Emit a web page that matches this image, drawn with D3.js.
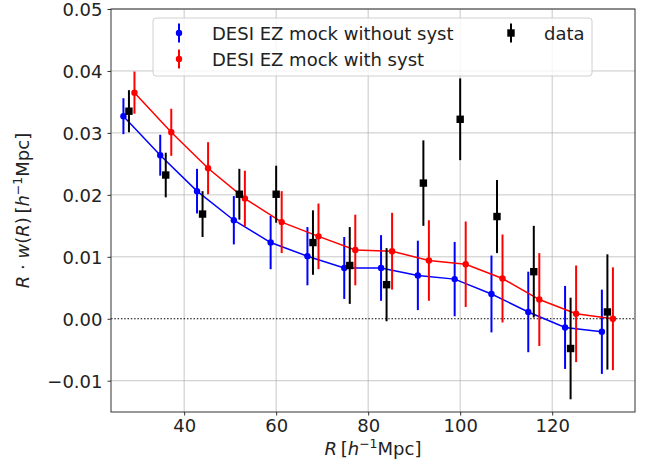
<!DOCTYPE html>
<html><head><meta charset="utf-8">
<script src="https://cdn.jsdelivr.net/npm/d3@7"></script>
<style>
html,body{margin:0;padding:0;background:#fff;}
text{font-family:"DejaVu Sans",sans-serif;}
</style></head>
<body><svg id="chart" width="656" height="468"></svg>
<script>
// ---- data ----
const R = [28,36,44,52,60,68,76,84,92,100,108,116,124,132];
const mockNoSyst    = [0.0327,0.0264,0.0206,0.0159,0.0123,0.0101,0.0082,0.0082,0.0070,0.0064,0.0040,0.0011,-0.0014,-0.0021];
const mockNoSystErr = [0.0029,0.0033,0.0036,0.0039,0.0043,0.0047,0.0050,0.0053,0.0056,0.0060,0.0062,0.0065,0.0067,0.0068];
const mockSyst      = [0.0365,0.0301,0.0243,0.0194,0.0156,0.0133,0.0111,0.0109,0.0094,0.0088,0.0065,0.0031,0.0008,0.0000];
const mockSystErr   = [0.0034,0.0038,0.0042,0.0045,0.0050,0.0053,0.0057,0.0062,0.0065,0.0069,0.0071,0.0075,0.0078,0.0083];
const dataVal       = [0.0335,0.0232,0.0169,0.0201,0.0201,0.0123,0.0086,0.0055,0.0219,0.0322,0.0165,0.0076,-0.0048,0.0011];
const dataErr       = [0.0034,0.0036,0.0037,0.0041,0.0046,0.0052,0.0062,0.0059,0.0069,0.0066,0.0059,0.0074,0.0082,0.0093];
const xTicks = [40,60,80,100,120];
const yTicks = [-0.01,0.00,0.01,0.02,0.03,0.04,0.05];
const legendLabels = ["DESI EZ mock without syst","DESI EZ mock with syst","data"];

// ---- layout ----
const W=656,H=468, m={l:111,t:9,r:21,b:56};
const svg=d3.select("#chart");
const x=d3.scaleLinear().domain([24.1,138.0]).range([m.l,W-m.r]);
const y=d3.scaleLinear().domain([-0.01505,0.05]).range([H-m.b,m.t]);
const FS=18;

// grid
const g=svg.append("g");
g.selectAll(".gx").data(xTicks).join("line")
 .attr("x1",d=>x(d)).attr("x2",d=>x(d)).attr("y1",m.t).attr("y2",H-m.b)
 .attr("stroke","#b0b0b0").attr("stroke-opacity",0.7).attr("stroke-width",1);
g.selectAll(".gy").data(yTicks.filter(d=>d!==0)).join("line")
 .attr("y1",d=>y(d)).attr("y2",d=>y(d)).attr("x1",m.l).attr("x2",W-m.r)
 .attr("stroke","#b0b0b0").attr("stroke-opacity",0.7).attr("stroke-width",1);

// zero dotted line
svg.append("line").attr("x1",m.l).attr("x2",W-m.r).attr("y1",y(0)).attr("y2",y(0))
 .attr("stroke","#000").attr("stroke-width",1.2).attr("stroke-dasharray","1.5,1.8");

// axes
const xAxis=d3.axisBottom(x).tickValues(xTicks).tickSize(3.5).tickPadding(4).tickFormat(d3.format("d"));
const yAxis=d3.axisLeft(y).tickValues(yTicks).tickSize(3.5).tickPadding(5)
 .tickFormat(d=>d3.format(".2f")(d).replace("-","\u2212"));
const gx=svg.append("g").attr("transform",`translate(0,${H-m.b})`).call(xAxis);
const gy=svg.append("g").attr("transform",`translate(${m.l},0)`).call(yAxis);
[gx,gy].forEach(a=>{a.select(".domain").remove();
 a.selectAll("text").attr("font-size",FS).attr("fill","#222").attr("font-family","DejaVu Sans");
 a.selectAll("line").attr("stroke","#333");});
gy.selectAll("text").attr("dy","0.36em");

// series
function drawSeries(vals,errs,off,color,line,square){
  const gg=svg.append("g");
  const pts=R.map((r,i)=>({x:r+off,v:vals[i],e:errs[i]}));
  if(line){
    gg.append("path").datum(pts).attr("fill","none").attr("stroke",color).attr("stroke-width",1.5)
     .attr("d",d3.line().x(d=>x(d.x)).y(d=>y(d.v)));
  }
  gg.selectAll(".eb").data(pts).join("line")
   .attr("x1",d=>x(d.x)).attr("x2",d=>x(d.x)).attr("y1",d=>y(d.v-d.e)).attr("y2",d=>y(d.v+d.e))
   .attr("stroke",color).attr("stroke-width",2);
  if(square){
    gg.selectAll(".mk").data(pts).join("rect")
     .attr("x",d=>x(d.x)-3.7).attr("y",d=>y(d.v)-3.7).attr("width",7.4).attr("height",7.4).attr("fill",color);
  } else {
    gg.selectAll(".mk").data(pts).join("circle")
     .attr("cx",d=>x(d.x)).attr("cy",d=>y(d.v)).attr("r",3.2).attr("fill",color);
  }
}
drawSeries(mockNoSyst,mockNoSystErr,-1.2,"#0000ff",true,false);
drawSeries(mockSyst,mockSystErr,1.2,"#ff0000",true,false);
drawSeries(dataVal,dataErr,0,"#000000",false,true);

// frame
svg.append("rect").attr("x",m.l).attr("y",m.t).attr("width",W-m.l-m.r).attr("height",H-m.t-m.b)
 .attr("fill","none").attr("stroke","#333").attr("stroke-width",1);

// legend
const lg=svg.append("g");
lg.append("rect").attr("x",153).attr("y",18).attr("width",439).attr("height",58).attr("rx",3)
 .attr("fill","#fff").attr("fill-opacity",0.8).attr("stroke","#d0d0d0").attr("stroke-width",1);
const legItems=[
 {lab:legendLabels[0],c:"#0000ff",mx:179,my:33,sq:false},
 {lab:legendLabels[1],c:"#ff0000",mx:179,my:59,sq:false},
 {lab:legendLabels[2],c:"#000000",mx:511,my:33,sq:true}];
legItems.forEach(it=>{
  lg.append("line").attr("x1",it.mx).attr("x2",it.mx).attr("y1",it.my-9.5).attr("y2",it.my+9.5)
   .attr("stroke",it.c).attr("stroke-width",2);
  if(it.sq) lg.append("rect").attr("x",it.mx-3.7).attr("y",it.my-3.7).attr("width",7.4).attr("height",7.4).attr("fill",it.c);
  else lg.append("circle").attr("cx",it.mx).attr("cy",it.my).attr("r",3.2).attr("fill",it.c);
  lg.append("text").attr("x",it.mx+33).attr("y",it.my+6.5).attr("font-size",FS).attr("fill","#222").text(it.lab);
});

// axis labels
const xl=svg.append("text").attr("x",(m.l+W-m.r)/2).attr("y",454.5).attr("text-anchor","middle").attr("font-size",FS).attr("fill","#222");
xl.append("tspan").attr("font-style","italic").text("R");
xl.append("tspan").text("\u2009[");
xl.append("tspan").attr("font-style","italic").text("h");
xl.append("tspan").attr("font-size",12.5).attr("dy",-6.5).text("\u22121");
xl.append("tspan").attr("dy",6.5).text("Mpc]");

const yl=svg.append("text").attr("transform",`translate(28.5,${(m.t+H-m.b)/2}) rotate(-90)`)
 .attr("text-anchor","middle").attr("font-size",FS).attr("fill","#222");
yl.append("tspan").attr("font-style","italic").text("R");
yl.append("tspan").text(" \u00b7 ");
yl.append("tspan").attr("font-style","italic").text("w");
yl.append("tspan").text("(");
yl.append("tspan").attr("font-style","italic").text("R");
yl.append("tspan").text(")\u2009[");
yl.append("tspan").attr("font-style","italic").text("h");
yl.append("tspan").attr("font-size",12.5).attr("dy",-6.5).text("\u22121");
yl.append("tspan").attr("dy",6.5).text("Mpc]");
</script></body></html>
